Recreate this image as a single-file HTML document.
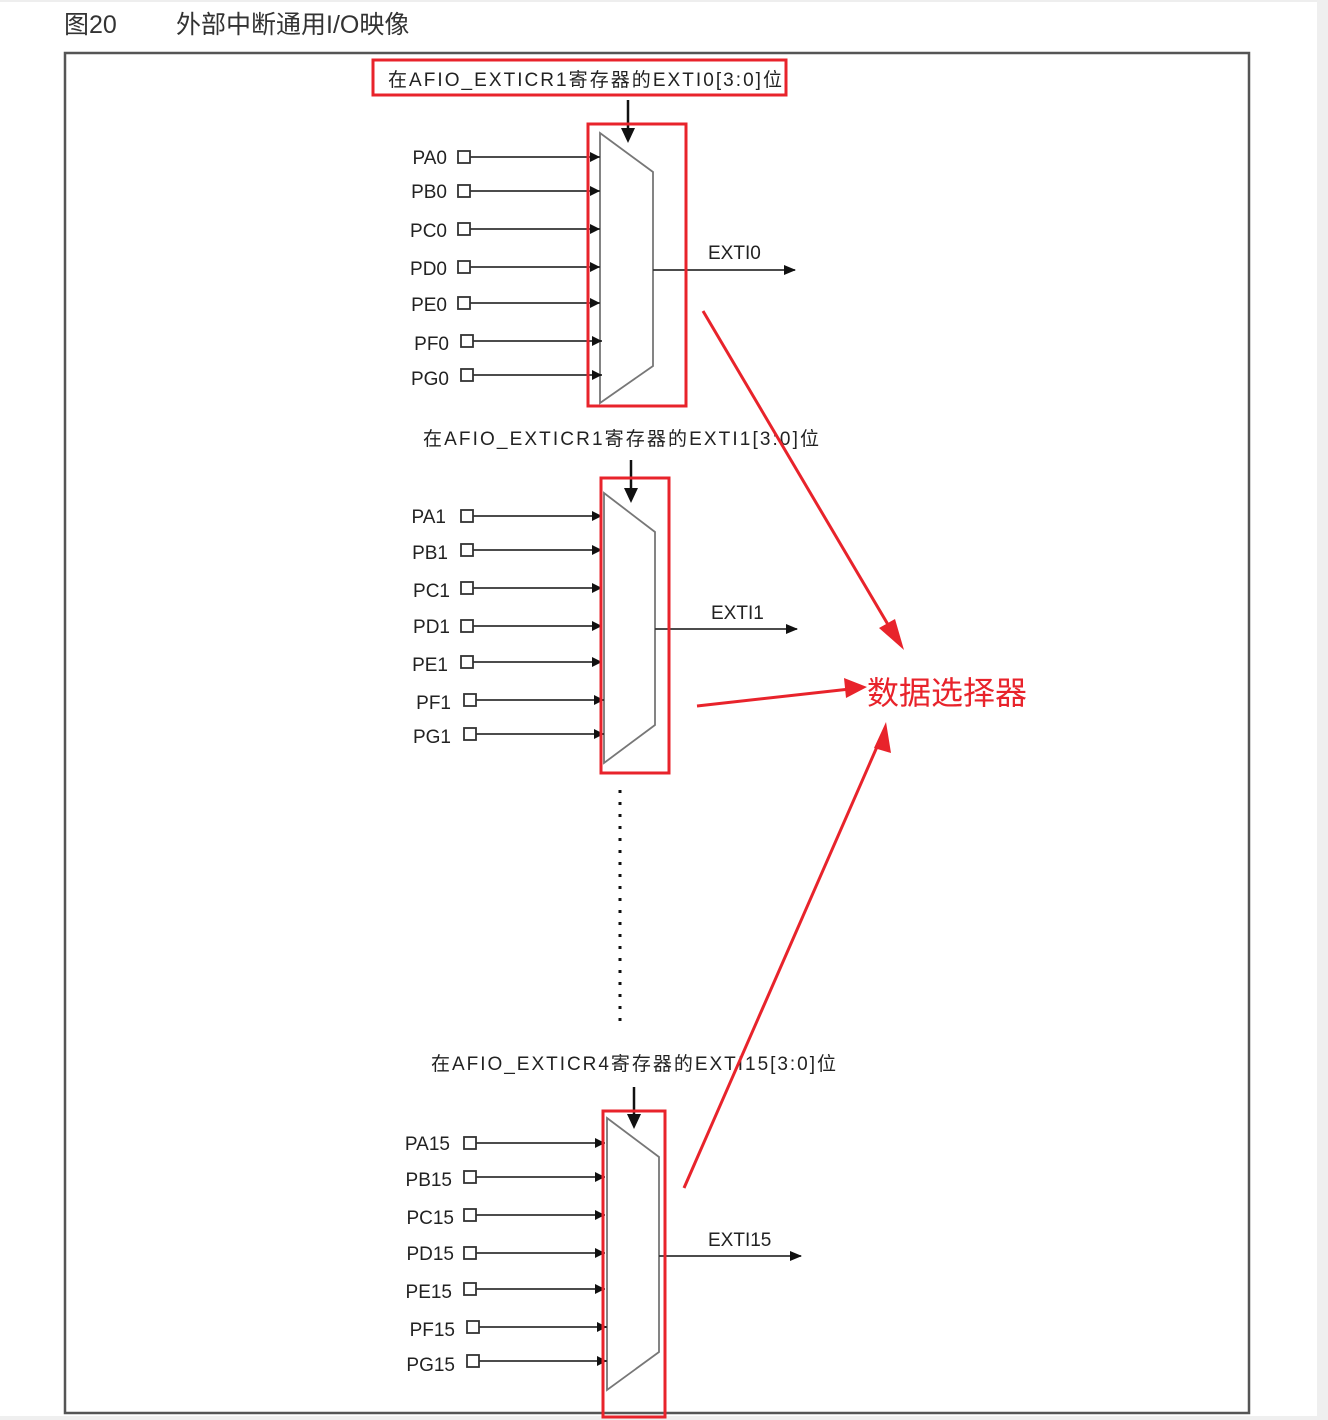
<!DOCTYPE html>
<html><head><meta charset="utf-8"><style>
html,body{margin:0;padding:0;background:#fff;}
svg{display:block;}
text{font-family:"Liberation Sans","Noto Sans CJK SC",sans-serif;}
</style></head><body>
<svg width="1328" height="1420" viewBox="0 0 1328 1420" xmlns="http://www.w3.org/2000/svg">
<defs>
<marker id="ah" markerWidth="12" markerHeight="10" refX="11" refY="5" orient="auto" markerUnits="userSpaceOnUse"><path d="M0,0 L12,5 L0,10 Z" fill="#111"/></marker>
<marker id="as" markerWidth="10" markerHeight="10" refX="10" refY="5" orient="auto" markerUnits="userSpaceOnUse"><path d="M0,0 L10,5 L0,10 Z" fill="#111"/></marker>
</defs>
<rect x="0" y="0" width="1328" height="2" fill="#eee"/>
<rect x="1317" y="0" width="11" height="1420" fill="#efefef"/>
<rect x="0" y="1416" width="1328" height="4" fill="#efefef"/>
<text x="64" y="33" font-size="25" fill="#333">图20</text>
<text x="176" y="33" font-size="25" fill="#333">外部中断通用I/O映像</text>
<rect x="65" y="53" width="1184" height="1360" fill="none" stroke="#555" stroke-width="2.5"/>

<g stroke="#333" fill="none" stroke-width="1.8">
<path d="M600,133 L653,172 L653,366 L600,403 Z" stroke="#777"/>
<line x1="628" y1="100" x2="628" y2="130" stroke-width="2.5" stroke="#111"/>
<line x1="653" y1="270" x2="795" y2="270" marker-end="url(#ah)"/>
<rect x="458" y="151" width="12" height="12"/><line x1="470" y1="157" x2="600" y2="157" marker-end="url(#as)"/>
<rect x="458" y="185" width="12" height="12"/><line x1="470" y1="191" x2="600" y2="191" marker-end="url(#as)"/>
<rect x="458" y="223" width="12" height="12"/><line x1="470" y1="229" x2="600" y2="229" marker-end="url(#as)"/>
<rect x="458" y="261" width="12" height="12"/><line x1="470" y1="267" x2="600" y2="267" marker-end="url(#as)"/>
<rect x="458" y="297" width="12" height="12"/><line x1="470" y1="303" x2="600" y2="303" marker-end="url(#as)"/>
<rect x="461" y="335" width="12" height="12"/><line x1="473" y1="341" x2="602" y2="341" marker-end="url(#as)"/>
<rect x="461" y="369" width="12" height="12"/><line x1="473" y1="375" x2="602" y2="375" marker-end="url(#as)"/>

<path d="M604,493 L655,532 L655,725 L604,763 Z" stroke="#777"/>
<line x1="631" y1="460" x2="631" y2="490" stroke-width="2.5" stroke="#111"/>
<line x1="655" y1="629" x2="797" y2="629" marker-end="url(#ah)"/>
<rect x="461" y="510" width="12" height="12"/><line x1="473" y1="516" x2="602" y2="516" marker-end="url(#as)"/>
<rect x="461" y="544" width="12" height="12"/><line x1="473" y1="550" x2="602" y2="550" marker-end="url(#as)"/>
<rect x="461" y="582" width="12" height="12"/><line x1="473" y1="588" x2="602" y2="588" marker-end="url(#as)"/>
<rect x="461" y="620" width="12" height="12"/><line x1="473" y1="626" x2="602" y2="626" marker-end="url(#as)"/>
<rect x="461" y="656" width="12" height="12"/><line x1="473" y1="662" x2="602" y2="662" marker-end="url(#as)"/>
<rect x="464" y="694" width="12" height="12"/><line x1="476" y1="700" x2="604" y2="700" marker-end="url(#as)"/>
<rect x="464" y="728" width="12" height="12"/><line x1="476" y1="734" x2="604" y2="734" marker-end="url(#as)"/>

<path d="M607,1118 L659,1157 L659,1352 L607,1390 Z" stroke="#777"/>
<line x1="634" y1="1087" x2="634" y2="1116" stroke-width="2.5" stroke="#111"/>
<line x1="659" y1="1256" x2="801" y2="1256" marker-end="url(#ah)"/>
<rect x="464" y="1137" width="12" height="12"/><line x1="476" y1="1143" x2="605" y2="1143" marker-end="url(#as)"/>
<rect x="464" y="1171" width="12" height="12"/><line x1="476" y1="1177" x2="605" y2="1177" marker-end="url(#as)"/>
<rect x="464" y="1209" width="12" height="12"/><line x1="476" y1="1215" x2="605" y2="1215" marker-end="url(#as)"/>
<rect x="464" y="1247" width="12" height="12"/><line x1="476" y1="1253" x2="605" y2="1253" marker-end="url(#as)"/>
<rect x="464" y="1283" width="12" height="12"/><line x1="476" y1="1289" x2="605" y2="1289" marker-end="url(#as)"/>
<rect x="467" y="1321" width="12" height="12"/><line x1="479" y1="1327" x2="607" y2="1327" marker-end="url(#as)"/>
<rect x="467" y="1355" width="12" height="12"/><line x1="479" y1="1361" x2="607" y2="1361" marker-end="url(#as)"/>
<line x1="620" y1="790" x2="620" y2="1030" stroke="#111" stroke-width="3" stroke-dasharray="3,9"/>
</g>
<g fill="#111">
<path d="M621,128 L635,128 L628,143 Z"/>
<path d="M624,488 L638,488 L631,503 Z"/>
<path d="M627,1114 L641,1114 L634,1129 Z"/>
</g>

<g font-size="19" fill="#222" text-anchor="end">
<text x="447" y="164">PA0</text><text x="447" y="198">PB0</text><text x="447" y="237">PC0</text>
<text x="447" y="275">PD0</text><text x="447" y="311">PE0</text><text x="449" y="350">PF0</text><text x="449" y="385">PG0</text>
<text x="446" y="523">PA1</text><text x="448" y="559">PB1</text><text x="450" y="597">PC1</text>
<text x="450" y="633">PD1</text><text x="448" y="671">PE1</text><text x="451" y="709">PF1</text><text x="451" y="743">PG1</text>
<text x="450" y="1150">PA15</text><text x="452" y="1186">PB15</text><text x="454" y="1224">PC15</text>
<text x="454" y="1260">PD15</text><text x="452" y="1298">PE15</text><text x="455" y="1336">PF15</text><text x="455" y="1371">PG15</text>
</g>
<g font-size="19" fill="#222">
<text x="708" y="259">EXTI0</text>
<text x="711" y="619">EXTI1</text>
<text x="708" y="1246">EXTI15</text>
<text x="388" y="86" textLength="394">在AFIO_EXTICR1寄存器的EXTI0[3:0]位</text>
<text x="423" y="445" textLength="396">在AFIO_EXTICR1寄存器的EXTI1[3:0]位</text>
<text x="431" y="1070" textLength="405">在AFIO_EXTICR4寄存器的EXTI15[3:0]位</text>
</g>

<g fill="none" stroke="#e8232b" stroke-width="3">
<rect x="373" y="60" width="413" height="35"/>
<rect x="588" y="124" width="98" height="282"/>
<rect x="601" y="478" width="68" height="295"/>
<rect x="603" y="1111" width="62" height="306"/>
</g>
<g stroke="#e8232b" fill="#e8232b">
<path d="M703,311 L890,628" stroke-width="3" fill="none"/>
<path d="M904,650 L879,628 L895,619 Z" stroke="none"/>
<path d="M886,722 L874,748 L891,753 Z" stroke="none"/>
<path d="M684,1188 L880,740" stroke-width="3" fill="none"/>
<path d="M697,706 L850,689" stroke-width="3" fill="none"/>
<path d="M867,687 L844,678 L846,698 Z" stroke="none"/>
</g>
<text x="867" y="704" font-size="32" fill="#e8232b">数据选择器</text>
</svg>
</body></html>
